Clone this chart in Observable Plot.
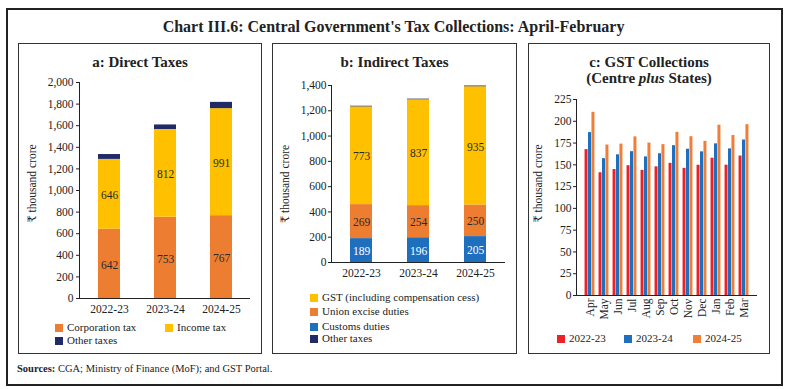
<!DOCTYPE html>
<html>
<head>
<meta charset="utf-8">
<script src="https://cdn.jsdelivr.net/npm/d3@7"></script>
<script src="https://cdn.jsdelivr.net/npm/@observablehq/plot@0.6"></script>
<style>
  html, body { margin: 0; padding: 0; background: #fff; }
  body { font-family: "Liberation Serif", "DejaVu Serif", serif; color: #222; }
  #root { position: relative; width: 787px; height: 389px; overflow: hidden; }
  .abs { position: absolute; }
  .frame { position: absolute; left: 6px; top: 8px; width: 773px; height: 374px; border: 2px solid #222; }
  .panel { position: absolute; border: 1px solid #333; }
  .title { position: absolute; left: 0; width: 787px; top: 18px; text-align: center; font-size: 16px; font-weight: bold; }
  .ptitle { position: absolute; text-align: center; font-size: 15px; font-weight: bold; line-height: 16px; }
  .leg { position: absolute; font-size: 11px; line-height: 12px; white-space: nowrap; }
  .sw { display: inline-block; width: 8px; height: 8px; margin-right: 4px; vertical-align: -0.5px; }
  .src { position: absolute; left: 17px; top: 363px; font-size: 10.5px; }
  svg { overflow: visible; }
</style>
</head>
<body>
<div id="root">
  <div class="frame"></div>
  <div class="title">Chart III.6: Central Government's Tax Collections: April-February</div>
  <div class="panel" style="left:18px;top:43px;width:242px;height:309px;"></div>
  <div class="panel" style="left:272px;top:43px;width:243px;height:309px;"></div>
  <div class="panel" style="left:528px;top:43px;width:240px;height:309px;"></div>
  <div class="ptitle" style="left:18px;width:244px;top:54px;">a: Direct Taxes</div>
  <div class="ptitle" style="left:272px;width:245px;top:54px;">b: Indirect Taxes</div>
  <div class="ptitle" style="left:528px;width:242px;top:54px;">c: GST Collections<br>(Centre <i>plus</i> States)</div>
  <div id="pa" class="abs" style="left:18px;top:68px;"></div>
  <div id="pb" class="abs" style="left:272px;top:70px;"></div>
  <div id="pc" class="abs" style="left:528px;top:88px;"></div>
  <div class="src"><b>Sources:</b> CGA; Ministry of Finance (MoF); and GST Portal.</div>
</div>
<script>
// ---------- Data ----------
const years = ["2022-23", "2023-24", "2024-25"];

// Panel a: Direct taxes (₹ thousand crore)
const directSeries = ["Corporation tax", "Income tax", "Other taxes"];
const corporationTax = [642, 753, 767];
const incomeTax = [646, 812, 991];
const otherDirect = [45, 42, 58];

// Panel b: Indirect taxes (₹ thousand crore)
const indirectSeries = ["Customs duties", "Union excise duties", "GST (including compensation cess)", "Other taxes"];
const customsDuties = [189, 196, 205];
const unionExcise = [269, 254, 250];
const gstIncl = [773, 837, 935];
const otherIndirect = [5, 5, 6];

// Panel c: GST collections (Centre plus States), ₹ thousand crore
const months = ["Apr", "May", "Jun", "Jul", "Aug", "Sep", "Oct", "Nov", "Dec", "Jan", "Feb", "Mar"];
const gst2223 = [167.5, 140.9, 144.6, 149.0, 143.6, 147.7, 151.7, 145.9, 149.5, 157.6, 149.6, 160.1];
const gst2324 = [187.0, 157.1, 161.5, 165.1, 159.1, 162.7, 172.0, 167.9, 164.9, 174.1, 168.3, 178.5];
const gst2425 = [210.3, 172.7, 173.8, 182.1, 175.0, 173.2, 187.3, 182.3, 176.9, 195.5, 183.6, 196.1];

// Tick labels
const ticksA = [0, 200, 400, 600, 800, 1000, 1200, 1400, 1600, 1800, 2000];
const ticksB = [0, 200, 400, 600, 800, 1000, 1200, 1400];
const ticksC = [0, 25, 50, 75, 100, 125, 150, 175, 200, 225];
const yTitle = "₹ thousand crore";

// ---------- Styles ----------
const colors = {
  orange: "#ED7D31", yellow: "#FFC000", navy: "#1F2A66", blue: "#1F6FBF", red: "#EC2227", orange2: "#F07E38"
};
const font = "Liberation Serif, DejaVu Serif, serif";
const fmt = d3.format(",");

// ---------- Panel a ----------
const dataA = [];
years.forEach((y, i) => {
  dataA.push({year: y, series: "Corporation tax", value: corporationTax[i]});
  dataA.push({year: y, series: "Income tax", value: incomeTax[i]});
  dataA.push({year: y, series: "Other taxes", value: otherDirect[i]});
});
const colorA = {domain: directSeries, range: [colors.orange, colors.yellow, colors.navy]};

function stackedPanel(data, seriesOrder, colorScale, ticks, yMax, opts) {
  return Plot.plot({
    width: opts.width, height: opts.height,
    marginLeft: opts.ml, marginRight: opts.mr, marginTop: opts.mt, marginBottom: opts.mb,
    style: {fontFamily: font, fontSize: "11.5px", color: "#222", background: "transparent"},
    x: {domain: years, paddingInner: opts.pi, paddingOuter: opts.po, label: null},
    y: {domain: [0, yMax], label: null},
    color: colorScale,
    marks: [
      Plot.barY(data, Plot.stackY({x: "year", y: "value", fill: "series", order: seriesOrder})),
      Plot.text(data.filter(d => d.series !== "Other taxes"), Plot.stackY({
        x: "year", y: "value", text: d => fmt(d.value), order: seriesOrder,
        fill: d => d.series === "Customs duties" ? "#fff" : "#2a2a2a",
        fontSize: 11.5, dy: 1
      })),
      Plot.axisY({ticks, tickSize: 3, tickPadding: opts.tp, tickFormat: fmt, label: null}),
      Plot.axisX({tickSize: 0, tickPadding: 6, label: null}),
      Plot.frame({anchor: "left", stroke: "#222"}),
      Plot.ruleY([0], {stroke: "#222"}),
      Plot.text([yTitle], {frameAnchor: "left", textAnchor: "middle", rotate: -90, dx: opts.tdx, dy: opts.tdy, fontSize: 11.5})
    ]
  });
}

document.getElementById("pa").append(stackedPanel(dataA, directSeries, colorA, ticksA, 2000,
  {width: 243, height: 252, ml: 61, mr: 11, mt: 14, mb: 22, pi: 0.61, po: 0.32, tp: 3, tdx: -47, tdy: -7}));

// ---------- Panel b ----------
const dataB = [];
years.forEach((y, i) => {
  dataB.push({year: y, series: "Customs duties", value: customsDuties[i]});
  dataB.push({year: y, series: "Union excise duties", value: unionExcise[i]});
  dataB.push({year: y, series: "GST (including compensation cess)", value: gstIncl[i]});
  dataB.push({year: y, series: "Other taxes", value: otherIndirect[i]});
});
const colorB = {domain: indirectSeries, range: [colors.blue, colors.orange, colors.yellow, colors.navy]};
document.getElementById("pb").append(stackedPanel(dataB, indirectSeries, colorB, ticksB, 1400,
  {width: 244, height: 214, ml: 59, mr: 11, mt: 15, mb: 22, pi: 0.614, po: 0.33, tp: 2, tdx: -46, tdy: 10}));

// ---------- Panel c ----------
const dataC = [];
months.forEach((m, i) => {
  dataC.push({month: m, year: "2022-23", value: gst2223[i]});
  dataC.push({month: m, year: "2023-24", value: gst2324[i]});
  dataC.push({month: m, year: "2024-25", value: gst2425[i]});
});
const yearColors = {"2022-23": colors.red, "2023-24": colors.blue, "2024-25": colors.orange2};
const yearOffsets = {"2022-23": -1, "2023-24": 0, "2024-25": 1};
const bw = 3.45;
document.getElementById("pc").append(Plot.plot({
  width: 241, height: 237,
  marginLeft: 48, marginRight: 12, marginTop: 11, marginBottom: 30,
  style: {fontFamily: font, fontSize: "11.5px", color: "#222", background: "transparent"},
  x: {domain: months, paddingInner: 0.77, paddingOuter: 0.42, label: null},
  y: {domain: [0, 225], label: null},
  marks: [
    ...years.map(yr => Plot.barY(dataC.filter(d => d.year === yr), {
      x: "month", y: "value", fill: yearColors[yr], dx: yearOffsets[yr] * bw
    })),
    Plot.axisY({ticks: ticksC, tickSize: 3, tickPadding: 2, label: null}),
    Plot.axisX({tickSize: 0, tickPadding: 3, tickRotate: -90, label: null}),
    Plot.frame({anchor: "left", stroke: "#222"}),
    Plot.ruleY([0], {stroke: "#222"}),
    Plot.text([yTitle], {frameAnchor: "left", textAnchor: "middle", rotate: -90, dx: -38, dy: -14, fontSize: 11.5})
  ]
}));

// ---------- Legends (HTML) ----------
function legendItem(label, color, left, top) {
  const d = document.createElement("div");
  d.className = "leg";
  d.style.left = left + "px";
  d.style.top = top + "px";
  d.innerHTML = `<span class="sw" style="background:${color}"></span>${label}`;
  document.getElementById("root").append(d);
}
legendItem(directSeries[0], colors.orange, 55, 321);
legendItem(directSeries[1], colors.yellow, 165, 321);
legendItem(directSeries[2], colors.navy, 55, 334);

legendItem(indirectSeries[2], colors.yellow, 310, 291);
legendItem(indirectSeries[1], colors.orange, 310, 305);
legendItem(indirectSeries[0], colors.blue, 310, 320);
legendItem(indirectSeries[3], colors.navy, 310, 332);

legendItem(years[0], colors.red, 557, 332);
legendItem(years[1], colors.blue, 624, 332);
legendItem(years[2], colors.orange2, 693, 332);
</script>
</body>
</html>
